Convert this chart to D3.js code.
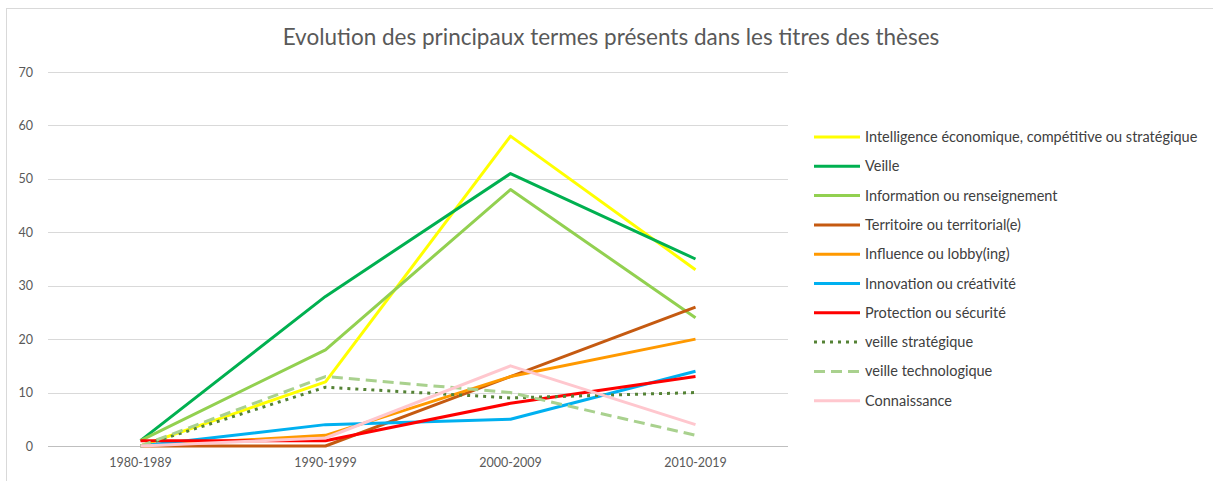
<!DOCTYPE html>
<html>
<head>
<meta charset="utf-8">
<script src="https://cdn.jsdelivr.net/npm/d3@7"></script>
<style>
  body{margin:0;background:#fff;}
  svg{display:block;font-family:Lato,"Open Sans",sans-serif;}
</style>
</head>
<body>
<script>
const w=1213;
const h=481;
const margin={top:72,bottom:35,left:48,right:425};

const PERIODS=["1980-1989","1990-1999","2000-2009","2010-2019"];
const Y_TICKS=[0,10,20,30,40,50,60,70];

const NAMES=["Intelligence économique, compétitive ou stratégique","Veille","Information ou renseignement",
             "Territoire ou territorial(e)","Influence ou lobby(ing)","Innovation ou créativité",
             "Protection ou sécurité","veille stratégique","veille technologique","Connaissance"];
const intelligence=[0,12,58,33];
const veille=[1,28,51,35];
const information=[1,18,48,24];
const territoire=[0,0,13,26];
const influence=[0,2,13,20];
const innovation=[0,4,5,14];
const protection=[1,1,8,13];
const veilleStrategique=[0,11,9,10];
const veilleTechno=[0,13,10,2];
const connaissance=[0,1.5,15,4];

const seriesValues=[intelligence,veille,information,territoire,influence,innovation,
                    protection,veilleStrategique,veilleTechno,connaissance];
const COLORS=["#FFFF00","#00B050","#92D050","#C55A11","#FF9900","#00B0F0",
              "#FF0000","#548235","#A9D18E","#FFC7CE"];
const DASHES=[null,null,null,null,null,null,null,"3,5","11,6",null];

const series=NAMES.map((name,i)=>({name,values:seriesValues[i],color:COLORS[i],dash:DASHES[i]}));

const svg=d3.select("body").append("svg").attr("width",w).attr("height",h);

// chart frame
svg.append("rect")
  .attr("x",6.5).attr("y",8.5)
  .attr("width",w+10).attr("height",h+10)
  .attr("fill","none").attr("stroke","#d9d9d9");

svg.append("text")
  .text("Evolution des principaux termes présents dans les titres des thèses")
  .attr("x",611).attr("y",45)
  .attr("text-anchor","middle")
  .style("font-size","22.5px")
  .attr("fill","#595959");

const xScale=d3.scaleBand().domain(PERIODS).range([margin.left,w-margin.right]);
const yScale=d3.scaleLinear().domain([0,70]).range([h-margin.bottom,margin.top]);

// gridlines
svg.append("g")
  .selectAll("line")
  .data(Y_TICKS)
  .enter()
  .append("line")
  .attr("x1",margin.left).attr("x2",w-margin.right)
  .attr("y1",d=>Math.round(yScale(d))+0.5).attr("y2",d=>Math.round(yScale(d))+0.5)
  .attr("stroke",d=>d===0?"#bfbfbf":"#d9d9d9");

const yAxis=d3.axisLeft(yScale).tickValues(Y_TICKS).tickSize(0).tickPadding(0);
const gy=svg.append("g").attr("transform","translate(33,0)").call(yAxis);
gy.select(".domain").remove();
gy.selectAll("text").attr("fill","#595959").style("font-size","12.5px").attr("font-family","Lato,'Open Sans',sans-serif");

const xAxis=d3.axisBottom(xScale).tickSize(0).tickPadding(0);
const gx=svg.append("g").attr("transform",`translate(0,${h-margin.bottom+12})`).call(xAxis);
gx.select(".domain").remove();
gx.selectAll("text").attr("fill","#595959").style("font-size","12.5px").attr("font-family","Lato,'Open Sans',sans-serif");

const line=d3.line()
  .x((d,i)=>xScale(PERIODS[i])+xScale.bandwidth()/2)
  .y(d=>yScale(d));

svg.append("g")
  .selectAll("path")
  .data(series)
  .enter()
  .append("path")
  .attr("d",d=>line(d.values))
  .attr("fill","none")
  .attr("stroke",d=>d.color)
  .attr("stroke-width",3)
  .attr("stroke-dasharray",d=>d.dash)
  .attr("stroke-linejoin","round");

// legend
const legend=svg.append("g").attr("transform","translate(814,137)");
const rows=legend.selectAll("g")
  .data(series)
  .enter()
  .append("g")
  .attr("transform",(d,i)=>`translate(0,${i*29.3})`);
rows.append("line")
  .attr("x1",0).attr("x2",46).attr("y1",0).attr("y2",0)
  .attr("stroke",d=>d.color)
  .attr("stroke-width",3)
  .attr("stroke-dasharray",d=>d.dash);
rows.append("text")
  .text(d=>d.name)
  .attr("x",51).attr("y",5)
  .style("font-size","14.5px")
  .attr("fill","#404040");
</script>
</body>
</html>
